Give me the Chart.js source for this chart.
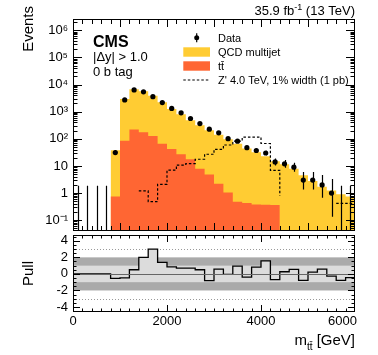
<!DOCTYPE html>
<html>
<head>
<meta charset="utf-8">
<script src="https://cdn.jsdelivr.net/npm/chart.js"></script>
<style>
html, body { margin: 0; padding: 0; background: #fff; }
#wrap { position: relative; width: 378px; height: 355px; }
canvas { position: absolute; left: 0; }
#top { top: 0; }
#pull { top: 232px; }
</style>
</head>
<body>
<div id="wrap">
  <canvas id="top" width="378" height="235"></canvas>
  <canvas id="pull" width="378" height="123"></canvas>
</div>
<script>
const FONT = "'Liberation Sans', Arial, Helvetica, sans-serif";

// bins of m_tt (GeV)
const binEdges = [0, 200, 400, 600, 800, 1000, 1200, 1400, 1600, 1800, 2000, 2200, 2400, 2600, 2800, 3000,
  3200, 3400, 3600, 3800, 4000, 4200, 4400, 4600, 4800, 5000, 5200, 5400, 5600, 5800, 6000];
const binCenters = [100, 300, 500, 700, 900, 1100, 1300, 1500, 1700, 1900, 2100, 2300, 2500, 2700, 2900,
  3100, 3300, 3500, 3700, 3900, 4100, 4300, 4500, 4700, 4900, 5100, 5300, 5500, 5700, 5900];

const dataCounts = [0, 0, 0, 0, 31, 2700, 6300, 5400, 3560, 2160, 1320, 905, 560, 365, 226,
  166, 101, 82, 47, 37, 30, 14, 12, 9, 3, 3, 2, 1, 0, 0];
const qcdYield = [0, 0, 0, 0, 37.3, 2865, 6480, 5425, 3774, 2134, 1208, 773, 462, 307, 200,
  138, 95, 65.5, 43.6, 31.6, 22.6, 14.6, 11.4, 7.8, 4.35, 2.8, 1.7, 1.25, 0.9, 0.75];
const ttbarYield = [0, 0, 0, 0, 0.75, 85, 220, 175, 126, 66, 42, 27, 17.6, 7.8, 4.8,
  2.2, 1.06, 0.48, 0.43, 0.38, 0.37, 0.36, 0.11, 0, 0.15, 0, 0, 0, 0, 0];
const zprimeYield = [0, 0, 0, 0, 0, 0, 0, 1.2, 0.48, 2.1, 7.0, 10.8, 12.2, 17.6, 27,
  41, 59, 82, 115, 115, 67, 6.9, 0.8, 0, 0, 0, 0, 0, 0.42, 0.42];
const pullValues = [0, 0, 0, 0, -0.54, -0.48, 0.5, 2.0, 3.0, 1.4, 0.86, 0.7, 0.7, 0.5, -0.8,
  0.57, -0.06, 0.93, -0.38, 0.81, 1.57, -0.69, 0.26, 0.54, -0.77, 0.21, 0.57, -0.26, -0.77, -0.45];

const logTickValues = [0.1, 1, 10, 100, 1e3, 1e4, 1e5, 1e6];
const logTickLabels = ['10\u207B\u00B9', '1', '10', '10\u00B2', '10\u00B3', '10\u2074', '10\u2075', '10\u2076'];
const pullTickValues = [-4, -2, 0, 2, 4];
const massTickValues = [0, 2000, 4000, 6000];

const QCD_COLOR = '#ffcc33';
const TT_COLOR = '#ff6633';

function stepPoints(vals) {
  // one point per bin edge, last value repeated at the upper edge
  return binEdges.map((e, i) => ({ x: e, y: vals[Math.min(i, vals.length - 1)] }));
}
const totalYield = qcdYield.map((v, i) => v + ttbarYield[i]);

function garwood(n) {
  const lo = n > 0 ? n - Math.sqrt(n - 0.25) : 0;
  const hi = n + 1 + Math.sqrt(n + 0.75);
  return [lo, hi];
}

// inward ticks on all four sides + frame
function drawFrame(chart, xt, yt) {
  const { ctx, chartArea: a, scales: { x, y } } = chart;
  ctx.save();
  ctx.strokeStyle = '#000';
  ctx.lineWidth = 1;
  ctx.beginPath();
  xt.forEach(t => {
    const px = Math.round(x.getPixelForValue(t.v)) + 0.5;
    ctx.moveTo(px, a.bottom); ctx.lineTo(px, a.bottom - t.len);
    ctx.moveTo(px, a.top); ctx.lineTo(px, a.top + t.len);
  });
  yt.forEach(t => {
    const py = Math.round(y.getPixelForValue(t.v)) + 0.5;
    if (py < a.top || py > a.bottom) return;
    ctx.moveTo(a.left, py); ctx.lineTo(a.left + t.len, py);
    ctx.moveTo(a.right, py); ctx.lineTo(a.right - t.len, py);
  });
  ctx.stroke();
  ctx.strokeRect(Math.round(a.left) + 0.5, Math.round(a.top) + 0.5,
    Math.round(a.right - a.left) - 1, Math.round(a.bottom - a.top) - 1);
  ctx.restore();
}

function massTicks(majorEvery, majLen, minLen) {
  const out = [];
  for (let v = 200; v < 6000; v += 200) out.push({ v: v, len: v % majorEvery === 0 ? majLen : minLen });
  return out;
}

function fixAxis(s) {
  s.width = 73;
  s.paddingTop = 0;
  s.paddingBottom = 0;
}

const topPlugin = {
  id: 'topDecor',
  afterDatasetsDraw(chart) {
    const { ctx, chartArea: a, scales: { x, y } } = chart;
    ctx.save();
    ctx.beginPath();
    ctx.rect(a.left, a.top, a.right - a.left, a.bottom - a.top);
    ctx.clip();
    ctx.strokeStyle = '#000';
    ctx.lineWidth = 1.2;
    ctx.beginPath();
    dataCounts.forEach((n, i) => {
      const [lo, hi] = garwood(n);
      const px = Math.round(x.getPixelForValue(binCenters[i])) + 0.5;
      const yl = lo > 0 ? y.getPixelForValue(lo) : a.bottom;
      ctx.moveTo(px, yl);
      ctx.lineTo(px, y.getPixelForValue(hi));
    });
    ctx.stroke();
    ctx.restore();

    // frame and ticks
    const yt = [];
    for (let e = -2; e <= 6; e++) {
      for (let k = 1; k <= 9; k++) {
        const v = k * Math.pow(10, e);
        if (v >= y.min && v <= y.max) yt.push({ v: v, len: k === 1 ? 9 : 4.5 });
      }
    }
    drawFrame(chart, massTicks(1000, 8, 5), yt);

    // texts
    ctx.save();
    ctx.fillStyle = '#000';
    ctx.textBaseline = 'alphabetic';
    ctx.font = 'bold 16px ' + FONT;
    ctx.textAlign = 'left';
    ctx.fillText('CMS', 93, 47);
    ctx.font = '13px ' + FONT;
    ctx.fillText('|\u0394y| > 1.0', 93, 61);
    ctx.fillText('0 b tag', 93, 76);

    // lumi label
    const parts = [['35.9 fb', 13, 0], ['-1', 9, -5], [' (13 TeV)', 13, 0]];
    let w = 0;
    parts.forEach(p => { ctx.font = p[1] + 'px ' + FONT; w += ctx.measureText(p[0]).width; });
    let cx = 355 - w;
    parts.forEach(p => {
      ctx.font = p[1] + 'px ' + FONT;
      ctx.fillText(p[0], cx, 15 + p[2]);
      cx += ctx.measureText(p[0]).width;
    });

    // legend
    const rows = [37.7, 52, 66, 80];
    ctx.font = '11px ' + FONT;
    ctx.fillText('Data', 218, rows[0] + 4);
    ctx.fillText('QCD multijet', 218, rows[1] + 4);
    ctx.fillText('tt\u0304', 218, rows[2] + 4);
    ctx.fillText("Z' 4.0 TeV, 1% width (1 pb)", 218, rows[3] + 4);
    ctx.beginPath();
    ctx.arc(196.7, rows[0], 2.5, 0, Math.PI * 2);
    ctx.fill();
    ctx.lineWidth = 1.2;
    ctx.beginPath();
    ctx.moveTo(196.7, rows[0] - 4.5); ctx.lineTo(196.7, rows[0] + 4.5);
    ctx.stroke();
    ctx.fillStyle = QCD_COLOR;
    ctx.fillRect(183.3, rows[1] - 4.7, 26.7, 9.4);
    ctx.fillStyle = TT_COLOR;
    ctx.fillRect(183.3, rows[2] - 4.7, 26.7, 9.4);
    ctx.setLineDash([2.5, 2]);
    ctx.lineWidth = 1.2;
    ctx.beginPath();
    ctx.moveTo(183.3, rows[3]); ctx.lineTo(210, rows[3]);
    ctx.stroke();
    ctx.setLineDash([]);

    // y title
    ctx.fillStyle = '#000';
    ctx.font = '15px ' + FONT;
    ctx.translate(33, 6);
    ctx.rotate(-Math.PI / 2);
    ctx.textAlign = 'right';
    ctx.fillText('Events', 0, 0);
    ctx.restore();
  }
};

new Chart(document.getElementById('top'), {
  type: 'line',
  data: {
    datasets: [
      {
        type: 'scatter', label: 'Data', order: -2,
        data: binCenters.map((c, i) => ({ x: c, y: dataCounts[i] > 0 ? dataCounts[i] : null })),
        pointRadius: 2.6, pointBackgroundColor: '#000', pointBorderWidth: 0, showLine: false
      },
      {
        label: 'Zprime', order: -1, data: stepPoints(zprimeYield), stepped: 'before',
        borderColor: '#000', borderWidth: 1.2, borderDash: [2.5, 2], pointRadius: 0, fill: false
      },
      {
        label: 'ttbar', order: 1, data: stepPoints(ttbarYield), stepped: 'before',
        borderColor: TT_COLOR, borderWidth: 0, backgroundColor: TT_COLOR, pointRadius: 0, fill: 'start'
      },
      {
        label: 'QCD', order: 2, data: stepPoints(totalYield), stepped: 'before',
        borderColor: QCD_COLOR, borderWidth: 0, backgroundColor: QCD_COLOR, pointRadius: 0, fill: 'start'
      }
    ]
  },
  options: {
    responsive: false, animation: false, devicePixelRatio: 1,
    layout: { padding: { top: 19, right: 23, bottom: 3, left: 0 } },
    plugins: { legend: { display: false }, tooltip: { enabled: false } },
    scales: {
      x: { type: 'linear', min: 0, max: 6000, display: false },
      y: {
        type: 'logarithmic', min: 0.04, max: 2.6e6,
        grid: { display: false, drawTicks: false }, border: { display: false },
        ticks: {
          autoSkip: false, padding: 5, color: '#000', font: { size: 13, family: FONT },
          callback: v => {
            const k = logTickValues.findIndex(t => Math.abs(t - v) / t < 1e-6);
            return k >= 0 ? logTickLabels[k] : '';
          }
        },
        afterFit: fixAxis
      }
    }
  },
  plugins: [topPlugin]
});

const pullPlugin = {
  id: 'pullDecor',
  beforeDatasetsDraw(chart) {
    const { ctx, chartArea: a, scales: { y } } = chart;
    ctx.save();
    ctx.fillStyle = '#aaaaaa';
    ctx.fillRect(a.left, y.getPixelForValue(2), a.right - a.left, y.getPixelForValue(-2) - y.getPixelForValue(2));
    ctx.fillStyle = '#dcdcdc';
    ctx.fillRect(a.left, y.getPixelForValue(1), a.right - a.left, y.getPixelForValue(-1) - y.getPixelForValue(1));
    ctx.strokeStyle = '#999';
    ctx.lineWidth = 1;
    ctx.setLineDash([1, 2]);
    [3, -3].forEach(v => {
      const py = Math.round(y.getPixelForValue(v)) + 0.5;
      ctx.beginPath(); ctx.moveTo(a.left, py); ctx.lineTo(a.right, py); ctx.stroke();
    });
    ctx.restore();
  },
  afterDatasetsDraw(chart) {
    const { ctx, chartArea: a, scales: { x, y } } = chart;
    ctx.save();
    ctx.strokeStyle = '#666';
    ctx.lineWidth = 1;
    const p0 = Math.round(y.getPixelForValue(0)) + 0.5;
    ctx.beginPath(); ctx.moveTo(a.left, p0); ctx.lineTo(a.right, p0); ctx.stroke();
    ctx.restore();

    const yt = [];
    for (let v = -4.5; v <= 4.5; v += 0.5) yt.push({ v: v, len: v % 2 === 0 ? 7 : 3.5 });
    drawFrame(chart, massTicks(2000, 7, 3.5), yt);

    ctx.save();
    ctx.fillStyle = '#000';
    ctx.font = '13px ' + FONT;
    ctx.textBaseline = 'top';
    massTickValues.forEach((v, i) => {
      const last = i === massTickValues.length - 1;
      ctx.textAlign = last ? 'right' : 'center';
      ctx.fillText(String(v), last ? 357 : x.getPixelForValue(v), a.bottom + 3);
    });

    // x title with subscript
    ctx.textBaseline = 'alphabetic';
    ctx.textAlign = 'left';
    const parts = [['m', 15, 0], ['tt\u0304', 10, 5], [' [GeV]', 15, 0]];
    let w = 0;
    parts.forEach(p => { ctx.font = p[1] + 'px ' + FONT; w += ctx.measureText(p[0]).width; });
    let cx = 355 - w;
    parts.forEach(p => {
      ctx.font = p[1] + 'px ' + FONT;
      ctx.fillText(p[0], cx, 113 + p[2]);
      cx += ctx.measureText(p[0]).width;
    });

    ctx.font = '15px ' + FONT;
    ctx.translate(33, 41.5);
    ctx.rotate(-Math.PI / 2);
    ctx.textAlign = 'center';
    ctx.fillText('Pull', 0, 0);
    ctx.restore();
  }
};

new Chart(document.getElementById('pull'), {
  type: 'line',
  data: {
    datasets: [{
      label: 'Pull', data: stepPoints(pullValues), stepped: 'before',
      borderColor: '#000', borderWidth: 1.3, backgroundColor: '#dcdcdc', pointRadius: 0, fill: 'origin'
    }]
  },
  options: {
    responsive: false, animation: false, devicePixelRatio: 1,
    layout: { padding: { top: 3, right: 23, bottom: 0, left: 0 } },
    plugins: { legend: { display: false }, tooltip: { enabled: false } },
    scales: {
      x: {
        type: 'linear', min: 0, max: 6000,
        grid: { display: false, drawTicks: false }, border: { display: false },
        ticks: { display: false, stepSize: 2000 },
        afterFit: s => { s.height = 43; s.paddingLeft = 0; s.paddingRight = 0; }
      },
      y: {
        type: 'linear', min: -4.6, max: 4.7,
        grid: { display: false, drawTicks: false }, border: { display: false },
        ticks: {
          autoSkip: false, stepSize: 2, includeBounds: false, padding: 5, color: '#000',
          font: { size: 13, family: FONT },
          callback: v => pullTickValues.includes(v) ? String(v) : ''
        },
        afterFit: fixAxis
      }
    }
  },
  plugins: [pullPlugin]
});
</script>
</body>
</html>
